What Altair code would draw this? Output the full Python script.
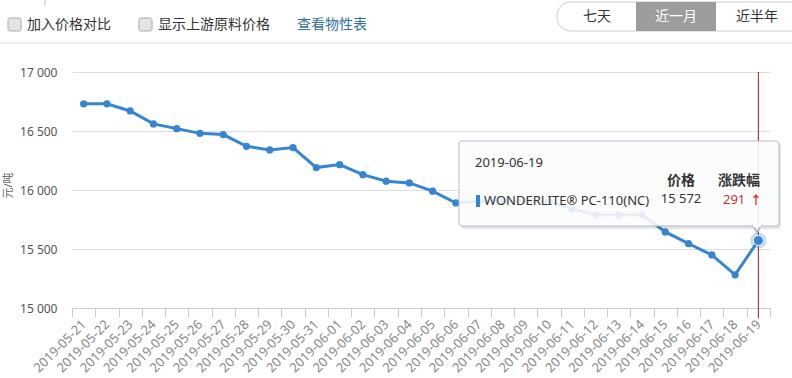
import altair as alt
import pandas as pd

# ---- data ----
dates = [
    "2019-05-21", "2019-05-22", "2019-05-23", "2019-05-24", "2019-05-25",
    "2019-05-26", "2019-05-27", "2019-05-28", "2019-05-29", "2019-05-30",
    "2019-05-31", "2019-06-01", "2019-06-02", "2019-06-03", "2019-06-04",
    "2019-06-05", "2019-06-06", "2019-06-07", "2019-06-08", "2019-06-09",
    "2019-06-10", "2019-06-11", "2019-06-12", "2019-06-13", "2019-06-14",
    "2019-06-15", "2019-06-16", "2019-06-17", "2019-06-18", "2019-06-19",
]
prices = [
    16730, 16730, 16670, 16560, 16520,
    16480, 16470, 16370, 16340, 16360,
    16190, 16215, 16130, 16075, 16060,
    15990, 15890, 15905, 15905, 15905,
    15900, 15840, 15790, 15790, 15790,
    15645, 15545, 15450, 15281, 15572,
]
y_ticks = [15000, 15500, 16000, 16500, 17000]
product = "WONDERLITE® PC-110(NC)"
sel_date = "2019-06-19"
sel_price = 15572
sel_change = 291
options = ["加入价格对比", "显示上游原料价格"]
link_text = "查看物性表"
ranges = ["七天", "近一月", "近半年"]

df = pd.DataFrame({"date": dates, "price": prices})
sel_df = df[df["date"] == sel_date]
one = pd.DataFrame({"k": [0]})

FONT = "Noto Sans, Noto Sans CJK SC, sans-serif"
BLUE = "#3585d3"
OX, OY = 72, 72  # plot origin on page


def X(px):
    return alt.value(px - OX)


def Y(py):
    return alt.value(py - OY)


def text(s, x, y, size=13, color="#333", weight="normal", align="left"):
    return alt.Chart(one).mark_text(
        text=s, align=align, baseline="middle", fontSize=size, color=color,
        fontWeight=weight, font=FONT
    ).encode(x=X(x), y=Y(y))


def rect(x1, x2, y1, y2, fill="white", stroke=None, radius=0, opacity=1.0, sw=1):
    kw = dict(fill=fill, fillOpacity=opacity, cornerRadius=radius)
    if stroke:
        kw.update(stroke=stroke, strokeWidth=sw)
    return alt.Chart(one).mark_rect(**kw).encode(x=X(x1), x2=X(x2), y=Y(y1), y2=Y(y2))


xscale = alt.Scale(type="band", paddingInner=0, paddingOuter=0)
yscale = alt.Scale(domain=[15000, 17000], nice=False, zero=False)

xenc = alt.X(
    "date:O", sort=None, scale=xscale, bandPosition=0.5,
    axis=alt.Axis(
        title=None, labelAngle=315, labelAlign="right", labelBaseline="middle",
        tickBand="extent", tickSize=9, tickColor="#cccccc", domainColor="#cccccc",
        labelColor="#888888", labelFontSize=13, labelFont=FONT, labelPadding=5,
        grid=False, labelOverlap=False,
    ),
)
yenc = alt.Y(
    "price:Q", scale=yscale,
    axis=alt.Axis(
        values=y_ticks, title="元/吨", titleFontSize=11, titleFont=FONT,
        titleColor="#666666", titleFontWeight="normal", titleX=-64, titleY=113,
        titleAngle=270, titleAlign="center", titleBaseline="middle",
        labelExpr="replace(format(datum.value, ','), ',', ' ')",
        labelColor="#555555", labelFontSize=12, labelFont=FONT, labelPadding=15,
        ticks=False, domain=False, grid=True, gridColor="#dddddd",
    ),
)

base = alt.Chart(df)
line = base.mark_line(color=BLUE, strokeWidth=3).encode(x=xenc, y=yenc)
pts = base.mark_circle(color=BLUE, size=52, opacity=1).encode(x=xenc, y=yenc)

sel = alt.Chart(sel_df)
vline = sel.mark_rule(color="#9e1b1b", strokeWidth=1).encode(
    x=xenc, y=alt.value(0), y2=alt.value(246))
halo = sel.mark_circle(color=BLUE, size=260, opacity=0.3).encode(x=xenc, y=yenc)
dot = sel.mark_circle(color=BLUE, size=100, opacity=1, stroke="white",
                      strokeWidth=1).encode(x=xenc, y=yenc)

# ---- tooltip ----
tip = [
    rect(461, 781, 143, 229, fill="#000000", opacity=0.10, radius=3),
    rect(459, 779, 141, 226, fill="white", stroke="#aebccb", radius=3, opacity=0.88),
    alt.Chart(one).mark_point(shape="triangle-down", size=60, fill="white",
                              stroke="#aebccb", filled=False, opacity=1).encode(
        x=X(757), y=Y(229)),
    rect(753, 761, 224, 227, fill="white"),
    text(sel_date, 475, 163, size=13, color="#333"),
    text("价格", 681, 181, size=14, color="#333", weight="bold", align="center"),
    text("涨跌幅", 739, 181, size=14, color="#333", weight="bold", align="center"),
    rect(476, 480, 195, 207, fill=BLUE),
    text(product, 484, 201, size=13, color="#333"),
    text(format(sel_price, ",").replace(",", " "), 681, 199, size=13,
         color="#333", align="center"),
    text(str(sel_change), 723, 200, size=13, color="#c0392b"),
    text("↑", 756, 201, size=12, color="#e0301e", weight="bold", align="center"),
]

# ---- top controls ----
top = [
    alt.Chart(one).mark_rule(color="#dddddd").encode(
        x=X(0), x2=X(792), y=Y(43)),
    alt.Chart(one).mark_rule(color="#bbbbbb").encode(
        x=X(45), y=Y(0), y2=Y(6)),
    rect(8, 21, 18, 31, fill="#e4e4e4", stroke="#aaaaaa", radius=2),
    text(options[0], 27, 25, size=14, color="#333"),
    rect(139, 152, 18, 31, fill="#e4e4e4", stroke="#aaaaaa", radius=2),
    text(options[1], 158, 25, size=14, color="#333"),
    text(link_text, 297, 25, size=14, color="#2f739b"),
    rect(557, 810, 2, 31, fill="white", stroke="#cccccc", radius=14),
    rect(636, 716, 2, 31, fill="#9c9c9c"),
    text(ranges[0], 597, 17, size=14, color="#333", align="center"),
    text(ranges[1], 676, 17, size=14, color="white", align="center"),
    text(ranges[2], 757, 17, size=14, color="#333", align="center"),
]

chart = alt.layer(line, pts, vline, halo, dot, *tip, *top).properties(
    width=698, height=236,
    autosize=alt.AutoSizeParams(type="none"),
    padding={"left": OX, "top": OY, "right": 22, "bottom": 70},
    background="white",
).configure_view(stroke=None)

chart.save("out.html", embed_options={"renderer": "svg", "actions": False})
